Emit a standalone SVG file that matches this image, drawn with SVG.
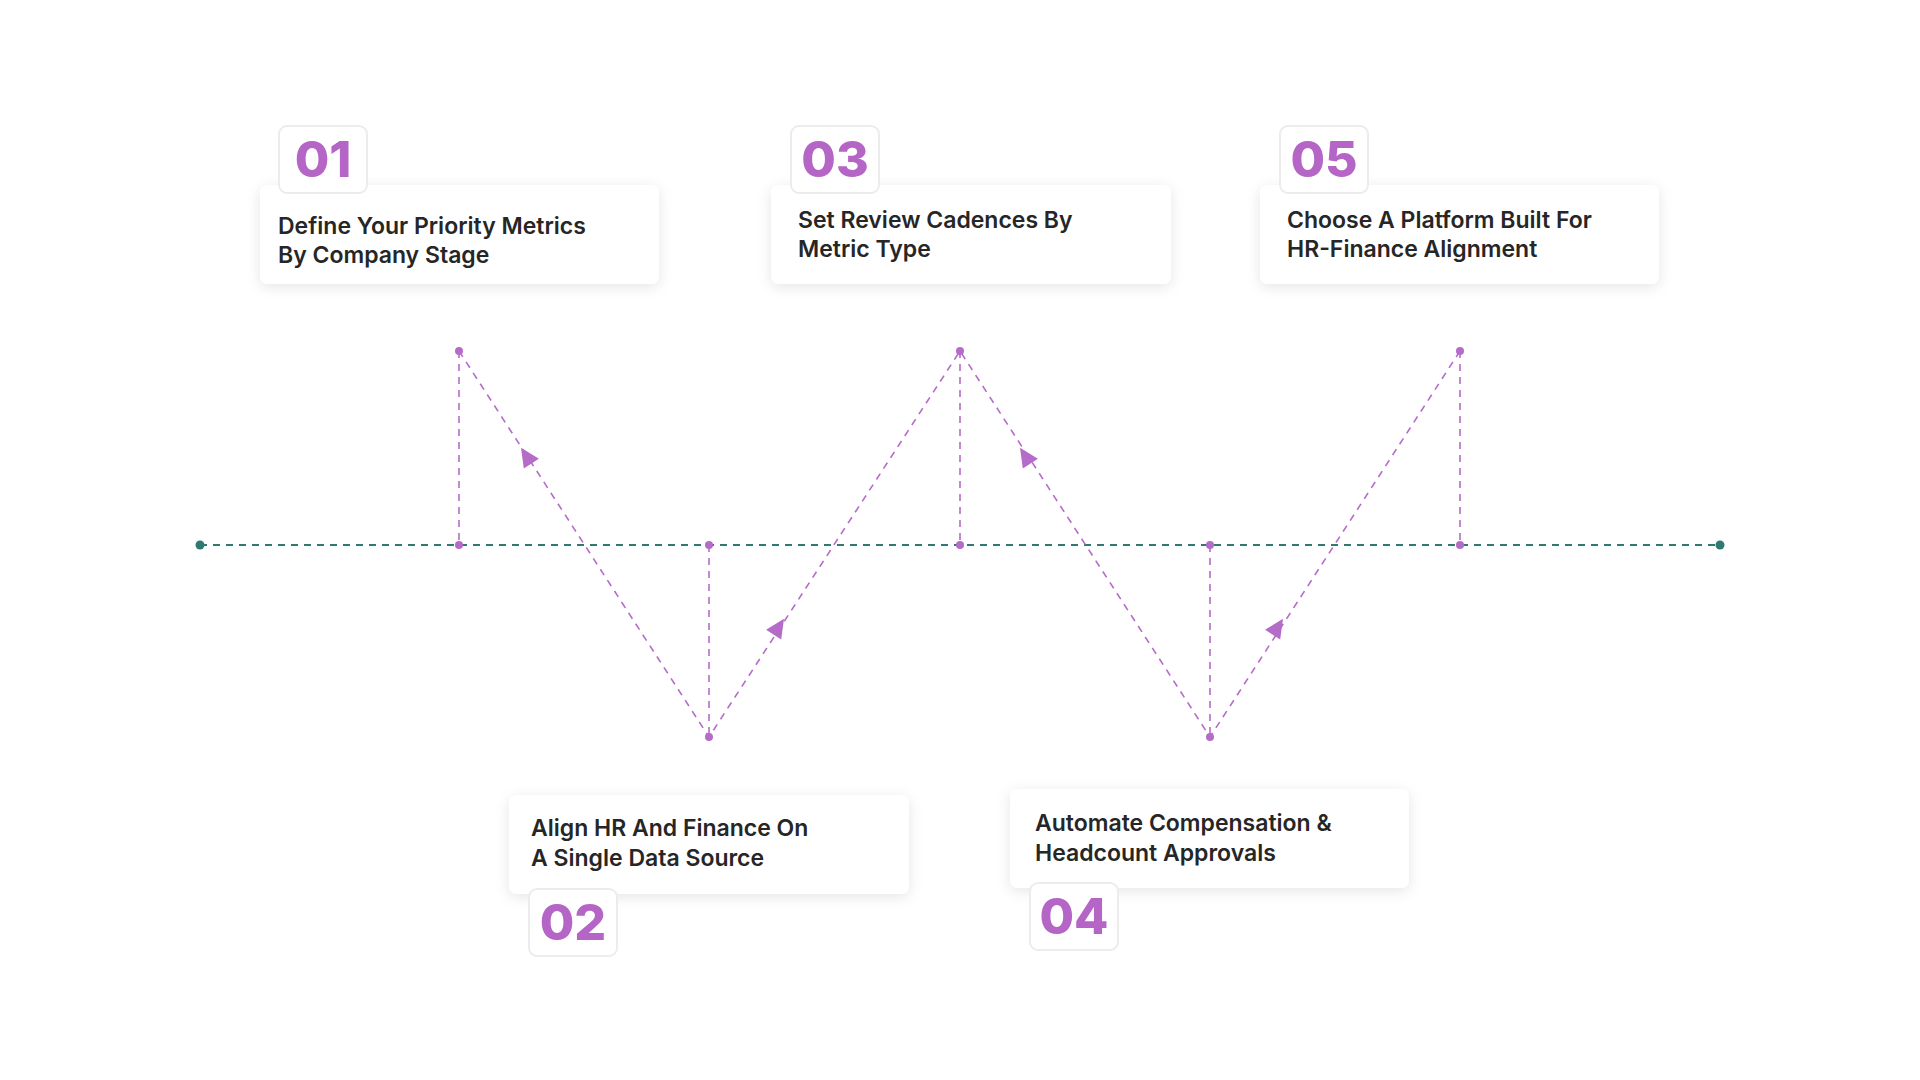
<svg xmlns="http://www.w3.org/2000/svg" width="1920" height="1080" viewBox="0 0 1920 1080">
<style>
.card{fill:#fff;filter:url(#sh)}
.badge{fill:#fff;stroke:#ececec;stroke-width:2}
.num{font-family:Inter,"Liberation Sans",sans-serif;font-weight:800;font-size:50px;fill:#b565c6}
.lbl{font-family:Inter,"Liberation Sans",sans-serif;font-weight:600;font-size:23px;fill:#262626}
.pl{stroke:#b56cc8;stroke-width:1.6;stroke-dasharray:7 6;fill:none}
.ax{stroke:#2e7a70;stroke-width:2;stroke-dasharray:7 6}
.pd{fill:#b56cc8}
.ar{fill:#b56cc8}
</style>
<defs>
<filter id="sh" x="-10%" y="-30%" width="120%" height="160%"><feDropShadow dx="0" dy="3" stdDeviation="7" flood-color="#000" flood-opacity="0.1"/></filter>
</defs>
<rect width="1920" height="1080" fill="#fff"/>
<g id="connectors">
<line class="ax" x1="200" y1="545" x2="1720" y2="545"/>
<circle cx="200" cy="545" r="4.5" fill="#2e7a70"/>
<circle cx="1720" cy="545" r="4.5" fill="#2e7a70"/>
<line class="pl" x1="459" y1="351" x2="459" y2="545"/>
<line class="pl" x1="709" y1="545" x2="709" y2="737"/>
<line class="pl" x1="960" y1="351" x2="960" y2="545"/>
<line class="pl" x1="1210" y1="545" x2="1210" y2="737"/>
<line class="pl" x1="1460" y1="351" x2="1460" y2="545"/>
<polyline class="pl" points="459,351 709,737 960,351 1210,737 1460,351"/>
<g class="pd">
<circle cx="459" cy="351" r="4"/><circle cx="459" cy="545" r="4"/>
<circle cx="709" cy="545" r="4"/><circle cx="709" cy="737" r="4"/>
<circle cx="960" cy="351" r="4"/><circle cx="960" cy="545" r="4"/>
<circle cx="1210" cy="545" r="4"/><circle cx="1210" cy="737" r="4"/>
<circle cx="1460" cy="351" r="4"/><circle cx="1460" cy="545" r="4"/>
</g>
<polygon class="ar" points="11,0 -8,-9 -8,9" transform="translate(527,457) rotate(237)"/>
<polygon class="ar" points="11,0 -8,-9 -8,9" transform="translate(778,628) rotate(-57)"/>
<polygon class="ar" points="11,0 -8,-9 -8,9" transform="translate(1026,457) rotate(237)"/>
<polygon class="ar" points="11,0 -8,-9 -8,9" transform="translate(1277,628) rotate(-57)"/>
</g>
<g id="n1">
<rect class="card" x="260" y="185" width="399" height="99" rx="8"/>
<rect class="badge" x="279" y="126" width="88" height="67" rx="8"/>
<text class="num" x="323" y="177" text-anchor="middle">01</text>
<text class="lbl" x="278" y="234">Define Your Priority Metrics</text>
<text class="lbl" x="278" y="263">By Company Stage</text>
</g>
<g id="n3">
<rect class="card" x="771" y="185" width="400" height="99" rx="8"/>
<rect class="badge" x="791" y="126" width="88" height="67" rx="8"/>
<text class="num" x="835" y="177" text-anchor="middle">03</text>
<text class="lbl" x="798" y="228">Set Review Cadences By</text>
<text class="lbl" x="798" y="257">Metric Type</text>
</g>
<g id="n5">
<rect class="card" x="1260" y="185" width="399" height="99" rx="8"/>
<rect class="badge" x="1280" y="126" width="88" height="67" rx="8"/>
<text class="num" x="1324" y="177" text-anchor="middle">05</text>
<text class="lbl" x="1287" y="228">Choose A Platform Built For</text>
<text class="lbl" x="1287" y="257">HR-Finance Alignment</text>
</g>
<g id="n2">
<rect class="card" x="509" y="795" width="400" height="99" rx="8"/>
<rect class="badge" x="529" y="889" width="88" height="67" rx="8"/>
<text class="num" x="573" y="940" text-anchor="middle">02</text>
<text class="lbl" x="531" y="836">Align HR And Finance On</text>
<text class="lbl" x="531" y="866">A Single Data Source</text>
</g>
<g id="n4">
<rect class="card" x="1010" y="789" width="399" height="99" rx="8"/>
<rect class="badge" x="1030" y="883" width="88" height="67" rx="8"/>
<text class="num" x="1074" y="934" text-anchor="middle">04</text>
<text class="lbl" x="1035" y="831">Automate Compensation &amp;</text>
<text class="lbl" x="1035" y="861">Headcount Approvals</text>
</g>
</svg>
